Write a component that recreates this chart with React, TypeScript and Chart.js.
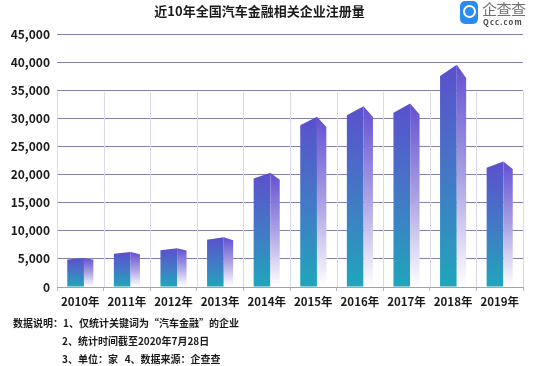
import React, { useEffect, useRef } from "react";
import { Chart, registerables } from "chart.js";

Chart.register(...registerables);

const categories = ["2010年", "2011年", "2012年", "2013年", "2014年", "2015年", "2016年", "2017年", "2018年", "2019年"];
const values = [4900, 5900, 6550, 8400, 19300, 28750, 30550, 31000, 37550, 21200];
const yTicks = [0, 5000, 10000, 15000, 20000, 25000, 30000, 35000, 40000, 45000];
const title = "近10年全国汽车金融相关企业注册量";
const notes = [
  "数据说明：1、仅统计关键词为“汽车金融”的企业",
  "2、统计时间截至2020年7月28日",
  "3、单位：家   4、数据来源：企查查",
];

const FONT = '"Noto Sans CJK SC", "Noto Sans", sans-serif';

const vlinesPlugin = {
  id: "vlines",
  beforeDatasetsDraw(chart: any) {
    const xs = chart.scales.x;
    const ys = chart.scales.y;
    const ctx = chart.ctx;
    const n = categories.length;
    const step = xs.width / n;
    const top = ys.getPixelForValue(34700);
    const bottom = ys.getPixelForValue(0);
    ctx.save();
    ctx.strokeStyle = "#dcdaea";
    ctx.lineWidth = 1;
    for (let i = 0; i <= n; i++) {
      const x = Math.round(xs.left + i * step) + 0.5;
      ctx.beginPath();
      ctx.moveTo(x, top);
      ctx.lineTo(x, bottom);
      ctx.stroke();
    }
    ctx.restore();
  },
};

const prismPlugin = {
  id: "prism",
  afterDatasetsDraw(chart: any) {
    const ctx = chart.ctx;
    const meta = chart.getDatasetMeta(0);
    ctx.save();
    meta.data.forEach((bar: any) => {
      const { x, y, base, width } = bar.getProps(["x", "y", "base", "width"], true);
      const left = x - width / 2;
      const right = x + width / 2;
      const split = left + width * 0.64;
      const h = base - y;
      const peak = Math.max(1.3, h * 0.053);
      const rightTop = y + peak * 0.2;
      const gf = ctx.createLinearGradient(0, y - peak, 0, base);
      gf.addColorStop(0, "#5a50cc");
      gf.addColorStop(0.5, "#4478c6");
      gf.addColorStop(1, "#1fa6bb");
      ctx.beginPath();
      ctx.moveTo(left, base);
      ctx.lineTo(left, y);
      ctx.lineTo(split, y - peak);
      ctx.lineTo(split, base);
      ctx.closePath();
      ctx.fillStyle = gf;
      ctx.fill();
      const gs = ctx.createLinearGradient(0, y - peak, 0, base);
      gs.addColorStop(0, "#6350d2");
      gs.addColorStop(0.5, "#a9a0e2");
      gs.addColorStop(1, "#ffffff");
      ctx.beginPath();
      ctx.moveTo(split, base);
      ctx.lineTo(split, y - peak);
      ctx.lineTo(right, rightTop);
      ctx.lineTo(right, base);
      ctx.closePath();
      ctx.fillStyle = gs;
      ctx.fill();
    });
    ctx.restore();
  },
};

export default function App() {
  const ref = useRef<HTMLCanvasElement | null>(null);

  useEffect(() => {
    document.body.style.margin = "0";
    const canvas = ref.current;
    if (!canvas) return;
    const chart = new Chart(canvas, {
      type: "bar",
      data: {
        labels: categories,
        datasets: [
          {
            data: values,
            backgroundColor: "rgba(0,0,0,0)",
            borderWidth: 0,
            barPercentage: 0.56,
            categoryPercentage: 1,
          },
        ],
      },
      options: {
        animation: false,
        responsive: false,
        devicePixelRatio: 1,
        layout: { padding: { top: 34, right: 26, left: 0, bottom: 0 } },
        plugins: { legend: { display: false }, tooltip: { enabled: false }, title: { display: false } },
        scales: {
          x: {
            grid: {
              drawOnChartArea: false,
              drawTicks: true,
              tickLength: 4,
              color: "#b9b6d2",
              offset: true,
            },
            border: { display: true, color: "#a19dc4", width: 1 },
            ticks: {
              color: "#1a1a1a",
              font: { family: FONT, size: 11.5, weight: "bold" },
              padding: 4,
              maxRotation: 0,
              autoSkip: false,
            },
            afterFit: (scale: any) => {
              scale.height = 79;
            },
          },
          y: {
            min: 0,
            max: 45000,
            afterBuildTicks: (scale: any) => {
              scale.ticks = yTicks.map((v) => ({ value: v }));
            },
            grid: { color: "#8581ab", lineWidth: 1, drawTicks: false },
            border: { display: false },
            ticks: {
              color: "#1a1a1a",
              font: { family: FONT, size: 12, weight: "bold" },
              padding: 7,
              callback: (v: any) => Number(v).toLocaleString("en-US"),
            },
            afterFit: (scale: any) => {
              scale.width = 57;
            },
          },
        },
      },
      plugins: [vlinesPlugin, prismPlugin],
    });
    return () => chart.destroy();
  }, []);

  const noteStyle: React.CSSProperties = {
    position: "absolute",
    fontFamily: FONT,
    fontWeight: 700,
    fontSize: 10,
    color: "#1a1a1a",
    whiteSpace: "pre",
    lineHeight: "14px",
  };

  return (
    <div style={{ position: "fixed", left: 0, top: 0, width: 549, height: 366, background: "#fff", overflow: "hidden" }}>
      <canvas ref={ref} width={549} height={366} style={{ position: "absolute", left: 0, top: 0, width: 549, height: 366 }} />
      <div
        style={{
          position: "absolute",
          left: 0,
          width: 519,
          top: 2,
          textAlign: "center",
          fontFamily: FONT,
          fontWeight: 700,
          fontSize: 13,
          lineHeight: "18px",
          color: "#1a1a1a",
          whiteSpace: "nowrap",
        }}
      >
        {title}
      </div>
      <div
        style={{
          position: "absolute",
          left: 460,
          top: 1,
          width: 18,
          height: 23,
          borderRadius: 5,
          background: "#2a8cf0",
        }}
      >
        <div
          style={{
            position: "absolute",
            left: 3,
            top: 4,
            width: 9,
            height: 9,
            borderRadius: "50%",
            border: "2px solid #fff",
          }}
        />
      </div>
      <div
        style={{
          position: "absolute",
          left: 482,
          top: -1,
          fontFamily: FONT,
          fontSize: 15,
          lineHeight: "19px",
          color: "#707070",
          letterSpacing: -0.5,
        }}
      >
        企查查
      </div>
      <div
        style={{
          position: "absolute",
          left: 483,
          top: 17,
          fontFamily: FONT,
          fontSize: 7.5,
          fontWeight: 700,
          lineHeight: "10px",
          color: "#444",
          letterSpacing: 1.2,
        }}
      >
        Qcc.com
      </div>
      <div style={{ ...noteStyle, left: 13, top: 316 }}>{notes[0]}</div>
      <div style={{ ...noteStyle, left: 62, top: 334 }}>{notes[1]}</div>
      <div style={{ ...noteStyle, left: 62, top: 352 }}>{notes[2]}</div>
    </div>
  );
}
